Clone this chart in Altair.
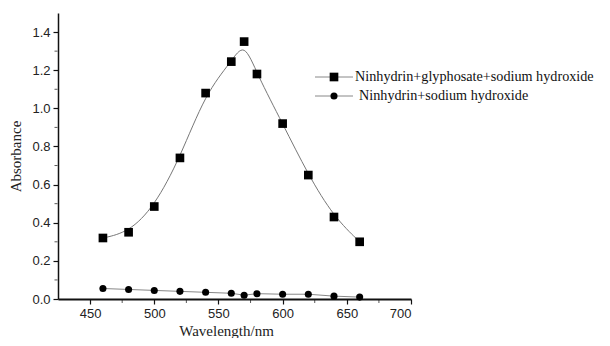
import altair as alt
import pandas as pd

wavelength = [460, 480, 500, 520, 540, 560, 570, 580, 600, 620, 640, 660]
abs_glyphosate = [0.32, 0.35, 0.485, 0.74, 1.08, 1.245, 1.35, 1.18, 0.92, 0.65, 0.43, 0.30]
abs_blank = [0.055, 0.05, 0.045, 0.04, 0.035, 0.03, 0.02, 0.028, 0.025, 0.025, 0.015, 0.01]
series_names = ["Ninhydrin+glyphosate+sodium hydroxide", "Ninhydrin+sodium hydroxide"]
x_major = [450, 500, 550, 600, 650, 700]
x_minor = [475, 525, 575, 625, 675]
y_major = [0.0, 0.2, 0.4, 0.6, 0.8, 1.0, 1.2, 1.4]
y_minor = [0.1, 0.3, 0.5, 0.7, 0.9, 1.1, 1.3]

W, H = 353, 286
SANS = "Liberation Sans"
SERIF = "Liberation Serif"

df1 = pd.DataFrame({"w": wavelength, "a": abs_glyphosate})
df2 = pd.DataFrame({"w": wavelength, "a": abs_blank})

xs = alt.Scale(domain=[425, 700], nice=False, zero=False)
ys = alt.Scale(domain=[0, 1.5], nice=False)

xaxis = alt.Axis(values=x_major, title="Wavelength/nm", grid=False, tickSize=5,
                 labelFont=SANS, labelFontSize=13, labelColor="#222", titleFont=SERIF,
                 titleFontSize=15, titleFontWeight="normal", titleColor="#222",
                 domainColor="#111", domainWidth=2, tickColor="#111", tickWidth=1.2,
                 labelPadding=3, titlePadding=3, titleX=168)
yaxis = alt.Axis(values=y_major, title="Absorbance", grid=False, tickSize=5, format=".1f",
                 labelFont=SANS, labelFontSize=13, labelColor="#222", titleFont=SERIF,
                 titleFontSize=15, titleFontWeight="normal", titleColor="#222",
                 domainColor="#111", domainWidth=1.5, tickColor="#111", tickWidth=1.2,
                 labelPadding=3, titlePadding=8)

line1 = alt.Chart(df1).mark_line(interpolate="basis", color="#777", strokeWidth=1).encode(
    x=alt.X("w:Q", scale=xs, axis=xaxis), y=alt.Y("a:Q", scale=ys, axis=yaxis))
pts1 = alt.Chart(df1).mark_point(shape="square", filled=True, color="black", size=75, opacity=1).encode(
    x=alt.X("w:Q", scale=xs), y=alt.Y("a:Q", scale=ys))
line2 = alt.Chart(df2).mark_line(color="#888", strokeWidth=1).encode(
    x=alt.X("w:Q", scale=xs), y=alt.Y("a:Q", scale=ys))
pts2 = alt.Chart(df2).mark_point(shape="circle", filled=True, color="black", size=50, opacity=1).encode(
    x=alt.X("w:Q", scale=xs), y=alt.Y("a:Q", scale=ys))

xminor = alt.Chart(pd.DataFrame({"v": x_minor})).mark_tick(color="#111", thickness=1, size=3).encode(
    x=alt.X("v:Q", scale=xs), y=alt.value(H + 2.5))
yminor = alt.Chart(pd.DataFrame({"v": y_minor})).mark_tick(color="#111", thickness=1, size=3, orient="horizontal").encode(
    y=alt.Y("v:Q", scale=ys), x=alt.value(-2))

leg = pd.DataFrame({"name": series_names, "row": [0, 1]})
ROW_Y = [64, 83]
legend_layers = []
for i, shape, size in [(0, "square", 75), (1, "circle", 50)]:
    base = alt.Chart(leg).transform_filter(f"datum.row == {i}")
    legend_layers.append(base.mark_rule(color="#888", strokeWidth=1).encode(
        x=alt.value(257), x2=alt.value(295), y=alt.value(ROW_Y[i])))
    legend_layers.append(base.mark_point(shape=shape, filled=True, color="black", size=size, opacity=1).encode(
        x=alt.value(276), y=alt.value(ROW_Y[i])))
    legend_layers.append(base.mark_text(align="left", baseline="middle", font=SERIF, fontSize=14.2, color="#111").encode(
        x=alt.value(297 + 4 * i), y=alt.value(ROW_Y[i]), text="name:N"))

chart = alt.layer(line1, line2, pts1, pts2, xminor, yminor, *legend_layers).properties(
    width=W, height=H,
    autosize=alt.AutoSizeParams(type="none"),
    padding={"left": 50, "top": 5, "right": 191, "bottom": 39},
).configure(background="white", view=alt.ViewConfig(stroke="transparent", strokeWidth=0))

chart.save("out.html", embed_options={"renderer": "svg", "actions": False})
